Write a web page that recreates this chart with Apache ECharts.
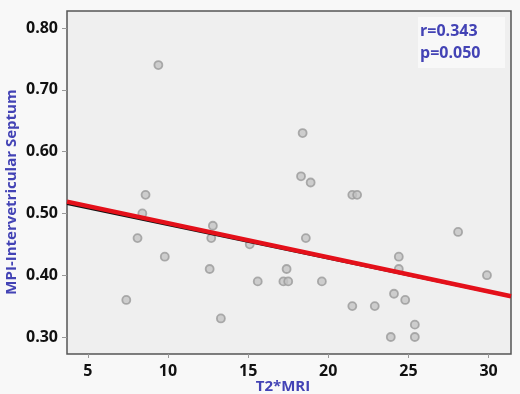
<!DOCTYPE html>
<html>
<head>
<meta charset="utf-8">
<script src="https://cdn.jsdelivr.net/npm/echarts@6/dist/echarts.min.js"></script>
<style>
  html, body {margin: 0; padding: 0; background: #f8f8f8;}
  #chart {width: 520px; height: 394px;}
</style>
</head>
<body>
<div id="chart"></div>
<script>
  // T2*MRI vs MPI of the interventricular septum
  const t2Values = [7.4, 8.1, 8.4, 8.6, 9.4, 9.8, 12.6, 12.7, 12.8, 13.3, 15.1, 15.6, 17.2, 17.5, 17.4,
    18.3, 18.4, 18.6, 18.9, 19.6, 21.5, 21.8, 21.5, 22.9, 23.9, 24.1, 24.4, 24.4, 24.8, 25.4, 25.4, 28.1, 29.9];
  const mpiValues = [0.36, 0.46, 0.50, 0.53, 0.74, 0.43, 0.41, 0.46, 0.48, 0.33, 0.45, 0.39, 0.39, 0.39, 0.41,
    0.56, 0.63, 0.46, 0.55, 0.39, 0.53, 0.53, 0.35, 0.35, 0.30, 0.37, 0.43, 0.41, 0.36, 0.32, 0.30, 0.47, 0.40];
  const fitX = [3.7, 31.4];
  const fitY = [0.519, 0.366];
  const fitYBlack = [0.515, 0.365];
  const xTicks = [5, 10, 15, 20, 25, 30];
  const yTicks = [0.3, 0.4, 0.5, 0.6, 0.7, 0.8];

  const blue = '#4343b5';
  const chart = echarts.init(document.getElementById('chart'));
  chart.setOption({
    backgroundColor: '#f8f8f8',
    animation: false,
    textStyle: {fontFamily: 'Open Sans'},
    grid: {
      left: 67, right: 9, top: 11, bottom: 40,
      outerBoundsMode: 'none',
      show: true,
      backgroundColor: '#efefef',
      borderColor: '#555',
      borderWidth: 1.5
    },
    xAxis: {
      type: 'value',
      min: 3.7,
      max: 31.4,
      axisLine: {show: false},
      splitLine: {show: false},
      axisTick: {show: true, customValues: xTicks, length: 4, lineStyle: {color: '#999'}},
      axisLabel: {
        customValues: xTicks,
        margin: 9,
        color: '#111',
        fontWeight: 'bold',
        fontSize: 16
      }
    },
    yAxis: {
      type: 'value',
      min: 0.2725,
      max: 0.8275,
      axisLine: {show: false},
      splitLine: {show: false},
      axisTick: {show: true, customValues: yTicks, length: 5, lineStyle: {color: '#999'}},
      axisLabel: {
        customValues: yTicks,
        margin: 9,
        color: '#111',
        fontWeight: 'bold',
        fontSize: 16,
        formatter: v => v.toFixed(2)
      }
    },
    graphic: [
      {
        type: 'text',
        x: 283, y: 387,
        style: {
          text: 'T2*MRI', fill: blue, font: 'bold 15px "Open Sans"',
          align: 'center', verticalAlign: 'middle'
        }
      },
      {
        type: 'text',
        x: 12, y: 192,
        rotation: Math.PI / 2,
        style: {
          text: 'MPI-Intervetricular Septum', fill: blue, font: 'bold 15px "Open Sans"',
          align: 'center', verticalAlign: 'middle'
        }
      },
      {
        type: 'rect',
        shape: {x: 418, y: 17, width: 87, height: 51},
        style: {fill: '#f8f8f8'}
      },
      {
        type: 'text',
        left: 420, top: 23,
        style: {text: 'r=0.343', fill: blue, font: 'bold 16px "Open Sans"'}
      },
      {
        type: 'text',
        left: 420, top: 45,
        style: {text: 'p=0.050', fill: blue, font: 'bold 16px "Open Sans"'}
      }
    ],
    series: [
      {
        type: 'scatter',
        data: t2Values.map((x, i) => [x, mpiValues[i]]),
        symbolSize: 8,
        itemStyle: {color: '#c4c4c4', borderColor: '#9a9a9a', borderWidth: 1.8},
        z: 2
      },
      {
        type: 'line',
        data: fitX.map((x, i) => [x, fitYBlack[i]]),
        symbol: 'none',
        lineStyle: {color: '#111', width: 2},
        z: 3
      },
      {
        type: 'line',
        data: fitX.map((x, i) => [x, fitY[i]]),
        symbol: 'none',
        lineStyle: {color: '#e4101a', width: 4.5},
        z: 4
      }
    ]
  });
</script>
</body>
</html>
